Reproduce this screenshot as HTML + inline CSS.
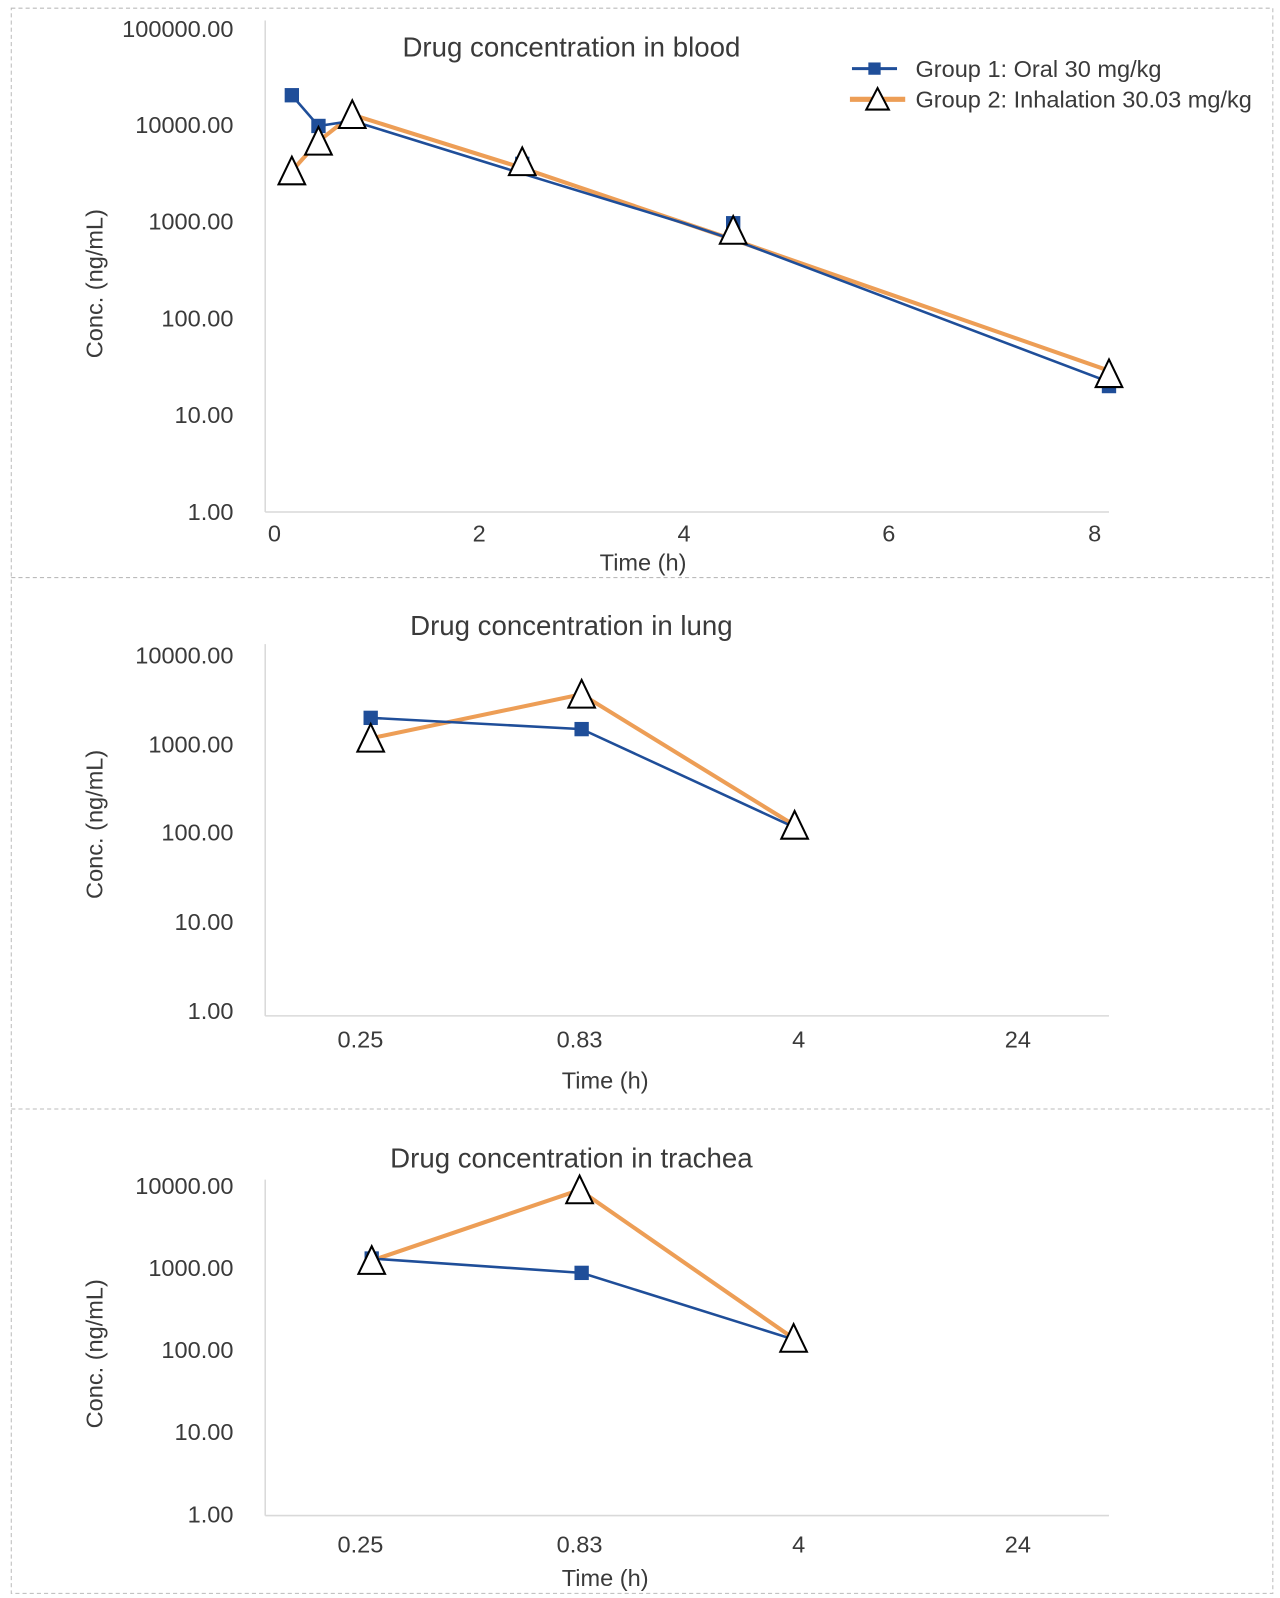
<!DOCTYPE html>
<html><head><meta charset="utf-8"><style>
html,body{margin:0;padding:0;background:#fff}
svg{display:block}
text{font-family:"Liberation Sans",Arial,sans-serif;fill:#3a3a3a}
</style></head><body>
<svg width="1280" height="1598" viewBox="0 0 1250 1560.5" preserveAspectRatio="none" xmlns="http://www.w3.org/2000/svg">
<defs>
<g id="sq"><rect x="-7" y="-7" width="14" height="14" fill="#1F4E99"/></g>
<g id="tri"><path d="M0,-14 L13,13 L-13,13 Z" fill="#fff" stroke="#000" stroke-width="2"/></g>
</defs>
<g fill="none" stroke="#bbb" stroke-dasharray="4,3" stroke-width="1">
<rect x="11" y="8" width="1232" height="1548"/>
<line x1="11" y1="564" x2="1243" y2="564"/>
<line x1="11" y1="1083" x2="1243" y2="1083"/>
</g>

<!-- BLOOD -->
<g stroke="#d9d9d9" stroke-width="1.5"><line x1="259" y1="20" x2="259" y2="500"/><line x1="259" y1="500" x2="1083" y2="500"/></g>
<g font-size="23" text-anchor="end">
<text x="228" y="36">100000.00</text><text x="228" y="130">10000.00</text><text x="228" y="224">1000.00</text>
<text x="228" y="319">100.00</text><text x="228" y="413">10.00</text><text x="228" y="508">1.00</text>
</g>
<g font-size="23" text-anchor="middle">
<text x="268" y="529">0</text><text x="468" y="529">2</text><text x="668" y="529">4</text><text x="868" y="529">6</text><text x="1069" y="529">8</text>
<text x="628" y="557">Time (h)</text>
<text x="558" y="55" font-size="27">Drug concentration in blood</text>
<text transform="translate(100,277) rotate(-90)">Conc. (ng/mL)</text>
</g>
<polyline points="285,167 311,138 344,112 510,164 716,234 1083,362" fill="none" stroke="#ED9E56" stroke-width="4"/>
<polyline points="285,93 311,123 344,118 505,168 668,218 716,234 1083,373" fill="none" stroke="#1F4E99" stroke-width="2.5"/>
<use href="#sq" x="285" y="93"/><use href="#sq" x="311" y="123"/><use href="#sq" x="344" y="118"/><use href="#sq" x="510" y="160"/><use href="#sq" x="716" y="218"/><use href="#sq" x="1083" y="377"/>
<use href="#tri" x="285" y="167"/><use href="#tri" x="311" y="138"/><use href="#tri" x="344" y="112"/><use href="#tri" x="510" y="158"/><use href="#tri" x="716" y="225"/><use href="#tri" x="1083" y="365"/>
<line x1="832" y1="67" x2="876" y2="67" stroke="#1F4E99" stroke-width="3"/><rect x="848" y="61" width="12" height="12" fill="#1F4E99"/>
<line x1="830" y1="97" x2="884" y2="97" stroke="#ED9E56" stroke-width="5"/><path d="M857,86 L868,107 L846,107 Z" fill="#fff" stroke="#000" stroke-width="2"/>
<text x="894" y="75" font-size="23">Group 1: Oral 30 mg/kg</text>
<text x="894" y="105" font-size="23">Group 2: Inhalation 30.03 mg/kg</text>

<!-- LUNG -->
<g stroke="#d9d9d9" stroke-width="1.5"><line x1="259" y1="629" x2="259" y2="992"/><line x1="259" y1="992" x2="1083" y2="992"/></g>
<g font-size="23" text-anchor="end">
<text x="228" y="648">10000.00</text><text x="228" y="735">1000.00</text><text x="228" y="821">100.00</text>
<text x="228" y="908">10.00</text><text x="228" y="995">1.00</text>
</g>
<g font-size="23" text-anchor="middle">
<text x="352" y="1023">0.25</text><text x="566" y="1023">0.83</text><text x="780" y="1023">4</text><text x="994" y="1023">24</text>
<text x="591" y="1063">Time (h)</text>
<text x="558" y="620" font-size="27">Drug concentration in lung</text>
<text transform="translate(100,805) rotate(-90)">Conc. (ng/mL)</text>
</g>
<polyline points="362,721 568,678 776,806" fill="none" stroke="#ED9E56" stroke-width="4"/>
<polyline points="362,701 568,712 776,808" fill="none" stroke="#1F4E99" stroke-width="2.5"/>
<use href="#sq" x="362" y="701"/><use href="#sq" x="568" y="712"/>
<use href="#tri" x="362" y="721"/><use href="#tri" x="568" y="678"/><use href="#tri" x="776" y="806"/>

<!-- TRACHEA -->
<g stroke="#d9d9d9" stroke-width="1.5"><line x1="259" y1="1152" x2="259" y2="1480"/><line x1="259" y1="1480" x2="1083" y2="1480"/></g>
<g font-size="23" text-anchor="end">
<text x="228" y="1166">10000.00</text><text x="228" y="1246">1000.00</text><text x="228" y="1326">100.00</text>
<text x="228" y="1406">10.00</text><text x="228" y="1487">1.00</text>
</g>
<g font-size="23" text-anchor="middle">
<text x="352" y="1516">0.25</text><text x="566" y="1516">0.83</text><text x="780" y="1516">4</text><text x="994" y="1516">24</text>
<text x="591" y="1549">Time (h)</text>
<text x="558" y="1140" font-size="27">Drug concentration in trachea</text>
<text transform="translate(100,1322) rotate(-90)">Conc. (ng/mL)</text>
</g>
<polyline points="363,1231 566,1162 775,1307" fill="none" stroke="#ED9E56" stroke-width="4"/>
<polyline points="363,1229 568,1243 775,1308" fill="none" stroke="#1F4E99" stroke-width="2.5"/>
<use href="#sq" x="363" y="1229"/><use href="#sq" x="568" y="1243"/>
<use href="#tri" x="363" y="1231"/><use href="#tri" x="566" y="1162"/><use href="#tri" x="775" y="1307"/>
</svg>
</body></html>
